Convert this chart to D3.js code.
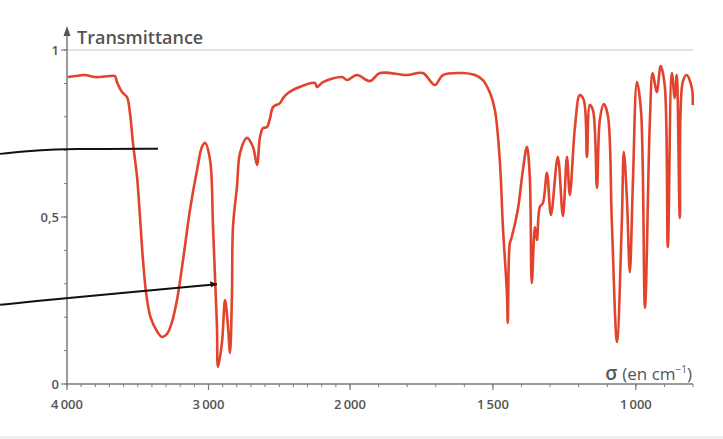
<!DOCTYPE html>
<html>
<head>
<meta charset="utf-8">
<script src="https://cdn.jsdelivr.net/npm/d3@7"></script>
<style>
  body { margin: 0; background: #fff; }
  svg text { font-family: "Open Sans", "Liberation Sans", sans-serif; fill: #555; }
</style>
</head>
<body>
<div id="plot"></div>
<script>
const width = 723;
const height = 439;

// wavenumbers (cm-1) and transmittance
const sigma = [3993, 3943, 3873, 3802, 3696, 3661, 3647, 3611, 3576, 3555,
    3534, 3505, 3484, 3463, 3440, 3410, 3364, 3329, 3293, 3262, 3223, 3180,
    3131, 3081, 3046, 3025, 2989, 2968, 2954, 2940, 2933, 2905,
    2883, 2862, 2848, 2834, 2827, 2799, 2777, 2728, 2686, 2657,
    2636, 2615, 2587, 2565, 2544, 2495, 2473, 2438, 2375, 2247,
    2233, 2191, 2057, 2021, 1976, 1930, 1895, 1801, 1745, 1703,
    1675, 1605, 1563, 1535, 1510, 1493, 1476, 1465, 1451, 1448,
    1441, 1434, 1413, 1395, 1381, 1371, 1364, 1353, 1346, 1336,
    1325, 1311, 1297, 1273, 1255, 1241, 1231, 1213, 1196, 1182,
    1171, 1161, 1150, 1136, 1126, 1112, 1098, 1084, 1066, 1049,
    1042, 1031, 1021, 1010, 996, 982, 968, 951, 941, 927,
    913, 899, 888, 874, 864, 857, 846, 836, 822, 804, 801];
const transmittance = [0.919, 0.922, 0.925, 0.919, 0.922, 0.922, 0.904, 0.874, 0.859, 0.811,
    0.722, 0.620, 0.500, 0.371, 0.270, 0.200, 0.158, 0.141, 0.150, 0.180, 0.251, 0.371,
    0.521, 0.641, 0.710, 0.722, 0.671, 0.470, 0.320, 0.171, 0.051, 0.123,
    0.251, 0.171, 0.093, 0.272, 0.470, 0.590, 0.692, 0.737, 0.710, 0.656,
    0.740, 0.766, 0.769, 0.796, 0.829, 0.841, 0.856, 0.871, 0.886, 0.901,
    0.889, 0.904, 0.919, 0.910, 0.925, 0.907, 0.931, 0.925, 0.931, 0.895,
    0.925, 0.931, 0.925, 0.910, 0.871, 0.820, 0.671, 0.470, 0.272, 0.183,
    0.420, 0.440, 0.521, 0.641, 0.710, 0.620, 0.302, 0.470, 0.431, 0.530,
    0.542, 0.632, 0.506, 0.680, 0.503, 0.680, 0.566, 0.769, 0.865, 0.850,
    0.680, 0.835, 0.820, 0.587, 0.790, 0.838, 0.805, 0.485, 0.126, 0.485,
    0.695, 0.551, 0.335, 0.611, 0.904, 0.820, 0.228, 0.784, 0.931, 0.874,
    0.952, 0.895, 0.410, 0.931, 0.856, 0.925, 0.497, 0.904, 0.925, 0.886, 0.835];

const xMajorTicks = [4000, 3000, 2000, 1500, 1000];
const xMinorTicks = d3.range(4000, 799, -100);
const yMajorTicks = [0, 0.5, 1];
const yMinorTicks = d3.range(0, 1.01, 0.1);

// hand-drawn pointer lines (data units)
const pointer1 = [[4473, 0.689], [4200, 0.700], [4000, 0.704], [3357, 0.704]];
const pointer2 = [[4473, 0.237], [4200, 0.249], [4000, 0.257], [2940, 0.299]];

// the axis changes scale at 2000 cm-1
const x = d3.scaleLinear().domain([4000, 2000, 800]).range([67, 350, 693]);
const y = d3.scaleLinear().domain([0, 1]).range([384, 50]);

const svg = d3.select("#plot").append("svg").attr("width", width).attr("height", height);

svg.append("rect").attr("x", 0).attr("y", 436).attr("width", width).attr("height", 3).attr("fill", "#eeeeee");

const axisColor = "#7a7a7a";

// line at T = 1
svg.append("line")
    .attr("x1", x(4000)).attr("x2", x(800))
    .attr("y1", y(1)).attr("y2", y(1))
    .attr("stroke", "#c4c4c4").attr("stroke-width", 1);

// y axis
svg.append("line")
    .attr("x1", x(4000)).attr("x2", x(4000))
    .attr("y1", y(0)).attr("y2", 33)
    .attr("stroke", axisColor).attr("stroke-width", 1.5);
svg.append("path")
    .attr("d", `M${x(4000) - 3.5},36 L${x(4000)},26 L${x(4000) + 3.5},36 Z`)
    .attr("fill", "#555");

svg.selectAll(".ymin").data(yMinorTicks).enter().append("line")
    .attr("x1", x(4000) - 3).attr("x2", x(4000))
    .attr("y1", d => y(d)).attr("y2", d => y(d))
    .attr("stroke", axisColor).attr("stroke-width", 1);
svg.selectAll(".ymaj").data(yMajorTicks).enter().append("line")
    .attr("x1", x(4000) - 6).attr("x2", x(4000))
    .attr("y1", d => y(d)).attr("y2", d => y(d))
    .attr("stroke", axisColor).attr("stroke-width", 1.2);
svg.selectAll(".ylab").data(yMajorTicks).enter().append("text")
    .attr("x", x(4000) - 8)
    .attr("y", d => y(d) + 5)
    .attr("text-anchor", "end")
    .attr("font-size", 13)
    .attr("font-weight", 600)
    .text(d => d3.format("")(d).replace(".", ","));

// x axis
svg.append("line")
    .attr("x1", x(4000)).attr("x2", x(800))
    .attr("y1", y(0)).attr("y2", y(0))
    .attr("stroke", axisColor).attr("stroke-width", 1.5);
svg.selectAll(".xmin").data(xMinorTicks).enter().append("line")
    .attr("x1", d => x(d)).attr("x2", d => x(d))
    .attr("y1", y(0)).attr("y2", y(0) + 3)
    .attr("stroke", axisColor).attr("stroke-width", 1);
svg.selectAll(".xmaj").data(xMajorTicks).enter().append("line")
    .attr("x1", d => x(d)).attr("x2", d => x(d))
    .attr("y1", y(0)).attr("y2", y(0) + 6)
    .attr("stroke", axisColor).attr("stroke-width", 1.2);
svg.selectAll(".xlab").data(xMajorTicks).enter().append("text")
    .attr("x", d => x(d))
    .attr("y", 409)
    .attr("text-anchor", "middle")
    .attr("font-size", 13)
    .attr("font-weight", 600)
    .text(d => String(d).replace(/(\d)(\d{3})$/, "$1\u2009$2"));

// axis titles
svg.append("text")
    .attr("x", 77).attr("y", 44)
    .attr("font-size", 18)
    .attr("font-weight", 600)
    .text("Transmittance");

const xt = svg.append("text")
    .attr("x", 692).attr("y", 380)
    .attr("text-anchor", "end")
    .attr("font-size", 17);
xt.append("tspan").attr("font-weight", 600).attr("font-size", 19).text("σ ");
xt.append("tspan").text("(en cm");
xt.append("tspan").attr("font-size", 10).attr("dy", -7).text("−1");
xt.append("tspan").attr("dy", 7).text(")");

// spectrum
const points = sigma.map((s, i) => [s, transmittance[i]]);
const line = d3.line()
    .x(d => x(d[0]))
    .y(d => y(d[1]))
    .curve(d3.curveCatmullRom.alpha(0.5));

svg.append("path")
    .datum(points)
    .attr("d", line)
    .attr("fill", "none")
    .attr("stroke", "#e2432c")
    .attr("stroke-width", 2.6)
    .attr("stroke-linejoin", "round");

// pointers
const pointerLine = d3.line().x(d => x(d[0])).y(d => y(d[1])).curve(d3.curveBasis);
[pointer1, pointer2].forEach(p => {
    svg.append("path")
        .attr("d", pointerLine(p))
        .attr("fill", "none")
        .attr("stroke", "#111")
        .attr("stroke-width", 2);
});
const tip = pointer2[pointer2.length - 1];
svg.append("path")
    .attr("d", `M${x(tip[0])},${y(tip[1])} l-7,-3 l1,6 Z`)
    .attr("fill", "#111");
</script>
</body>
</html>
